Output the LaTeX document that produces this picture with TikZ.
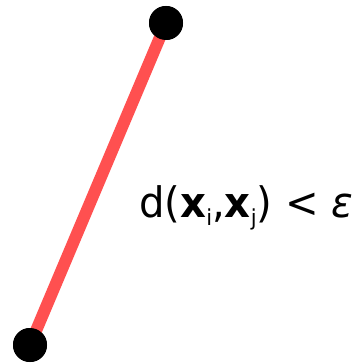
\documentclass[tikz,border=0pt]{standalone}
\usepackage{fontspec}
\setmainfont{DejaVu Sans}
\definecolor{edgered}{RGB}{255,80,80}
\newcommand{\subtxt}[1]{\raisebox{-8pt}{\fontsize{22}{24}\selectfont #1}}
\begin{document}
\begin{tikzpicture}[x=1pt,y=-1pt,
  vertex/.style={circle,fill=black,inner sep=0pt,minimum size=34pt},
  link/.style={edgered,line width=12pt},
  lbl/.style={inner sep=0pt,anchor=base west,font=\fontsize{42}{46}\selectfont}]
\useasboundingbox (0,0) rectangle (359,363);
\node[vertex] (a) at (166,23) {};
\node[vertex] (b) at (30,345) {};
\draw[link] (b.center) -- (a.center);
\node[vertex] at (166,23) {};
\node[vertex] at (30,345) {};
\node[lbl] (t) at (139,217) {\resizebox{214pt}{\height}{d(\textbf{x}\subtxt{i},\textbf{x}\subtxt{j}) < \textit{ε}}};
\end{tikzpicture}
\end{document}
